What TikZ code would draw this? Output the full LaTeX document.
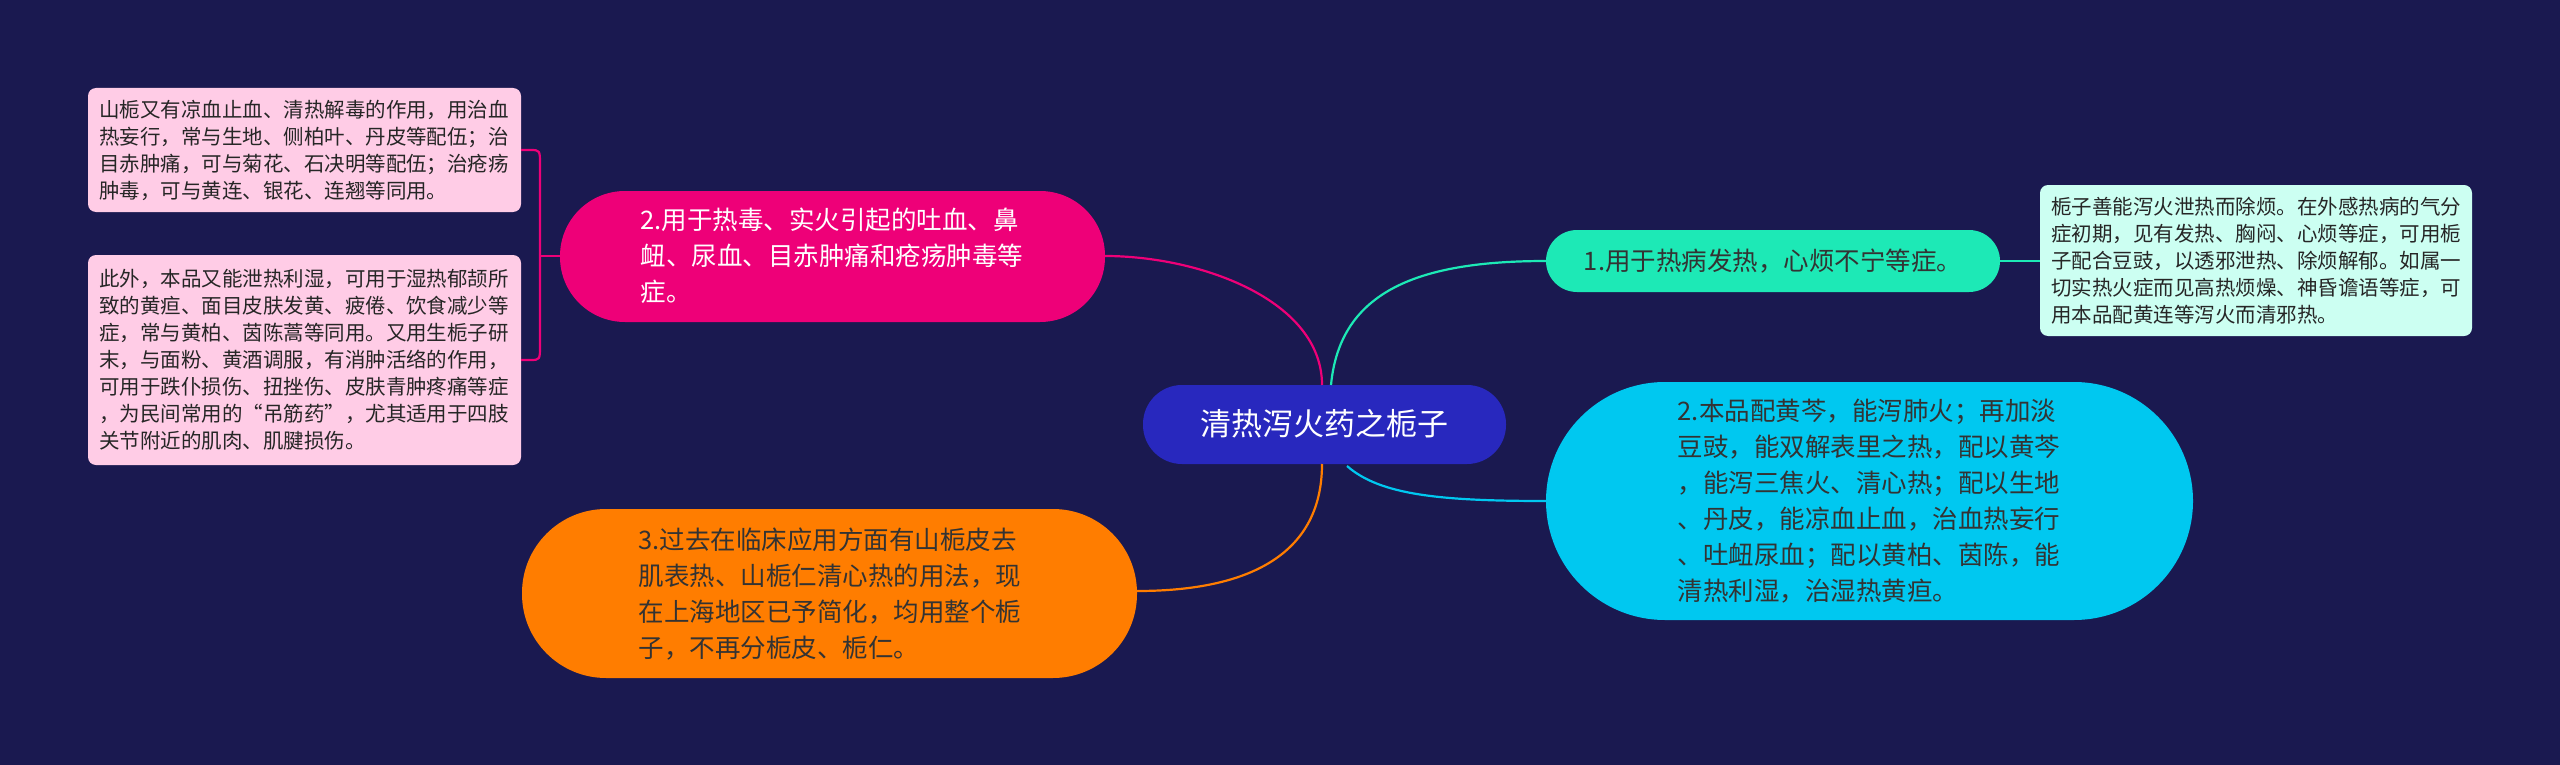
\documentclass[tikz,border=0pt]{standalone}
\usepackage{fontspec}
\setmainfont{Noto Sans CJK SC}
\begin{document}
\begin{tikzpicture}[x=1pt,y=-1pt,
 box/.style={draw=none,rounded corners=8pt,align=left,inner sep=0pt,font=\fontsize{20.5}{27}\selectfont,text=black!85},
 pill/.style={align=left,inner sep=0pt,font=\fontsize{25.5}{36}\selectfont},
 conn/.style={line width=2.2pt}]
\fill[fill={rgb,255:red,26;green,25;blue,80}] (0,0) rectangle (2560,765);
\useasboundingbox (0,0) rectangle (2560,765);
\definecolor{cen}{RGB}{40,40,190}
\definecolor{mag}{RGB}{238,0,120}
\definecolor{grn}{RGB}{29,233,182}
\definecolor{cya}{RGB}{0,200,240}
\definecolor{org}{RGB}{255,125,0}
\definecolor{pnk}{RGB}{255,204,230}
\definecolor{lcy}{RGB}{204,255,242}
% shapes
\fill[cen,rounded corners=39pt] (1143,385) rectangle (1506,464);
\node[pill,text=white,font=\fontsize{31}{34}\selectfont] (c) at (1324,424) {清热泻火药之栀子};
\fill[mag,rounded corners=65pt] (560,191) rectangle (1105,322);
\node[pill,text=white] (m) at (832,256) {2.用于热毒、实火引起的吐血、鼻\\衄、尿血、目赤肿痛和疮疡肿毒等\\症。};
\fill[grn,rounded corners=31pt] (1546,230) rectangle (2000,292);
\node[pill,text=black!80] (g) at (1773,261) {1.用于热病发热，心烦不宁等症。};
\fill[cya,rounded corners=119pt] (1546,382) rectangle (2193,620);
\node[pill,text=black!80] (cy) at (1869,501) {2.本品配黄芩，能泻肺火；再加淡\\豆豉，能双解表里之热，配以黄芩\\，能泻三焦火、清心热；配以生地\\、丹皮，能凉血止血，治血热妄行\\、吐衄尿血；配以黄柏、茵陈，能\\清热利湿，治湿热黄疸。};
\fill[org,rounded corners=84pt] (522,509) rectangle (1137,678);
\node[pill,text=black!80] (o) at (830,594) {3.过去在临床应用方面有山栀皮去\\肌表热、山栀仁清心热的用法，现\\在上海地区已予简化，均用整个栀\\子，不再分栀皮、栀仁。};
\fill[lcy,rounded corners=8pt] (2040,185) rectangle (2472,336);
\node[box] (rb) at (2256,261) {栀子善能泻火泄热而除烦。在外感热病的气分\\症初期，见有发热、胸闷、心烦等症，可用栀\\子配合豆豉，以透邪泄热、除烦解郁。如属一\\切实热火症而见高热烦燥、神昏谵语等症，可\\用本品配黄连等泻火而清邪热。};
\fill[pnk,rounded corners=8pt] (88,88) rectangle (521,212);
\node[box] (b1) at (304,150) {山栀又有凉血止血、清热解毒的作用，用治血\\热妄行，常与生地、侧柏叶、丹皮等配伍；治\\目赤肿痛，可与菊花、石决明等配伍；治疮疡\\肿毒，可与黄连、银花、连翘等同用。};
\fill[pnk,rounded corners=8pt] (88,255) rectangle (521,465);
\node[box] (b2) at (304,360) {此外，本品又能泄热利湿，可用于湿热郁颉所\\致的黄疸、面目皮肤发黄、疲倦、饮食减少等\\症，常与黄柏、茵陈蒿等同用。又用生栀子研\\末，与面粉、黄酒调服，有消肿活络的作用，\\可用于跌仆损伤、扭挫伤、皮肤青肿疼痛等症\\，为民间常用的“吊筋药”，尤其适用于四肢\\关节附近的肌肉、肌腱损伤。};
% connectors
\coordinate (ct1) at (1322,385);
\coordinate (ct2) at (1331,385);
\coordinate (cb1) at (1322,464);
\coordinate (cb2) at (1347,466);
\coordinate (mr) at (1105,256);
\coordinate (ml) at (560,256);
\coordinate (gl) at (1546,261);
\coordinate (gr) at (2000,261);
\coordinate (rbl) at (2040,261);
\coordinate (cyl) at (1546,501);
\coordinate (orr) at (1137,591);
\coordinate (b1r) at (521,150);
\coordinate (b2r) at (521,360);
\draw[conn,mag] (ct1) .. controls (1322,300) and (1200,256) .. (mr);
\draw[conn,grn] (ct2) .. controls (1340,290) and (1420,261) .. (gl);
\draw[conn,cya] (cb2) .. controls (1380,495) and (1440,501) .. (cyl);
\draw[conn,org] (cb1) .. controls (1322,560) and (1240,591) .. (orr);
\draw[conn,grn] (gr) -- (rbl);
\draw[conn,mag] (ml) -- (540,256);
\draw[conn,mag] (b1r) -- (530,150) .. controls (540,150) .. (540,165) -- (540,345) .. controls (540,360) .. (530,360) -- (b2r);
\end{tikzpicture}
\end{document}
